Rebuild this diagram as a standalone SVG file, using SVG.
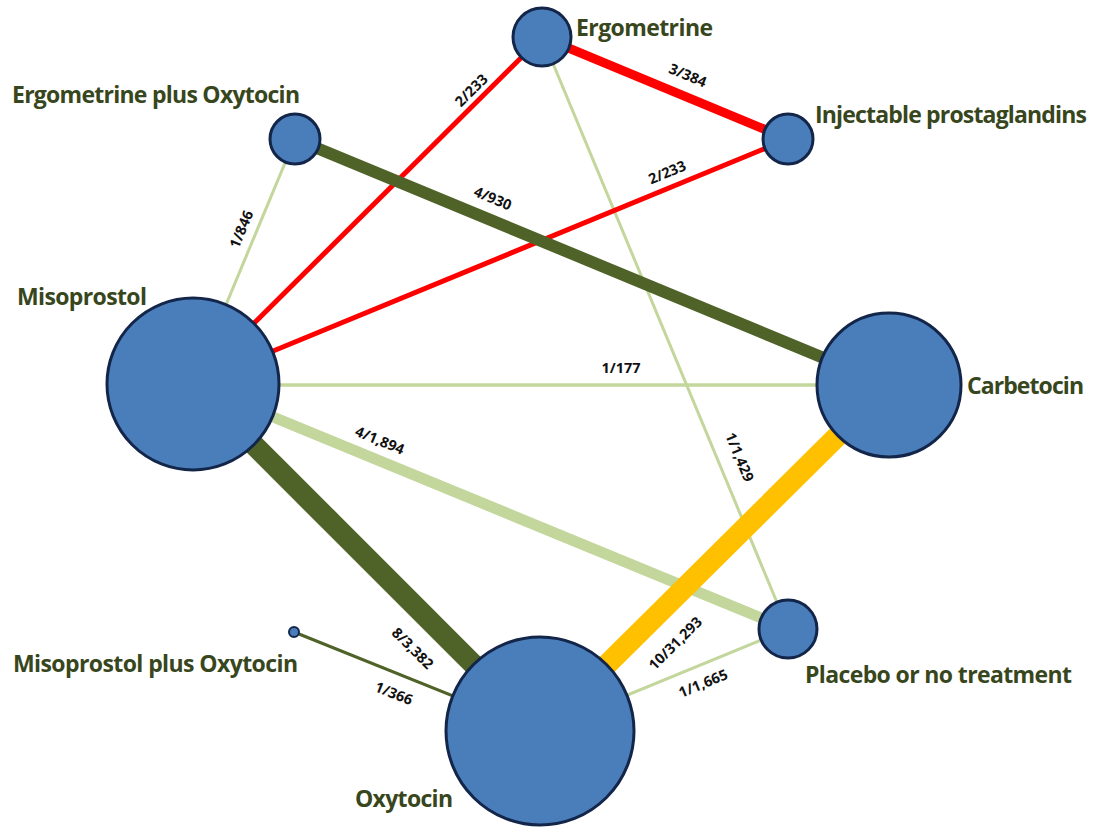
<svg xmlns="http://www.w3.org/2000/svg" width="1093" height="827" viewBox="0 0 1093 827">
<style>
.node circle{fill:#4A7EBB;stroke:#13264A;stroke-width:3}
.nl{font-family:"Open Sans","Liberation Sans",sans-serif;font-weight:bold;font-size:23px;fill:#37461C}
.el{font-family:"Open Sans","Liberation Sans",sans-serif;font-weight:bold;font-size:14.5px;fill:#111;text-anchor:middle;dominant-baseline:central}
.red{stroke:#FF0000}
.dg{stroke:#4F6228}
.lg{stroke:#C3D69B}
.gold{stroke:#FFC000}
</style>
<rect width="1093" height="827" fill="#ffffff"/>
<g id="connectors" fill="none">
<line class="lg" x1="295" y1="139" x2="193" y2="384" stroke-width="3"/>
<line class="lg" x1="542" y1="37" x2="788" y2="629" stroke-width="3"/>
<line class="lg" x1="193" y1="385" x2="889" y2="385" stroke-width="3.5"/>
<line class="lg" x1="540" y1="731" x2="788" y2="629" stroke-width="3"/>
<line class="lg" x1="193" y1="384" x2="788" y2="629" stroke-width="11"/>
<line class="red" x1="193" y1="384" x2="542" y2="37" stroke-width="5"/>
<line class="red" x1="193" y1="384" x2="788" y2="139" stroke-width="5"/>
<line class="red" x1="542" y1="37" x2="788" y2="139" stroke-width="9"/>
<line class="dg" x1="295" y1="139" x2="889" y2="385" stroke-width="12"/>
<line class="dg" x1="193" y1="384" x2="540" y2="731" stroke-width="21"/>
<line class="gold" x1="889" y1="385" x2="540" y2="731" stroke-width="21"/>
<line class="dg" x1="294" y1="632" x2="540" y2="731" stroke-width="3"/>
<text class="el" transform="translate(688,75) rotate(22.5)">3/384</text>
<text class="el" transform="translate(471,90) rotate(-44.8)">2/233</text>
<text class="el" transform="translate(667,172) rotate(-22.4)">2/233</text>
<text class="el" transform="translate(493,198) rotate(22.5)">4/930</text>
<text class="el" transform="translate(241,229) rotate(-67.4)">1/846</text>
<text class="el" transform="translate(621,367)">1/177</text>
<text class="el" transform="translate(740,457) rotate(67.4)">1/1,429</text>
<text class="el" transform="translate(380,440) rotate(22.4)">4/1,894</text>
<text class="el" transform="translate(413,648) rotate(45)">8/3,382</text>
<text class="el" transform="translate(675,643) rotate(-44.8)">10/31,293</text>
<text class="el" transform="translate(703,683) rotate(-22.4)">1/1,665</text>
<text class="el" transform="translate(394,693) rotate(21.9)">1/366</text>
</g>
<g id="node-ergometrine" class="node"><circle cx="542" cy="37" r="29"/><text class="nl" x="576" y="36" textLength="137">Ergometrine</text></g>
<g id="node-ergometrine-plus-oxytocin" class="node"><circle cx="295" cy="139" r="25"/><text class="nl" x="12" y="103" textLength="288">Ergometrine plus Oxytocin</text></g>
<g id="node-injectable-prostaglandins" class="node"><circle cx="788" cy="139" r="25"/><text class="nl" x="815" y="123" textLength="272">Injectable prostaglandins</text></g>
<g id="node-misoprostol" class="node"><circle cx="193" cy="384" r="86"/><text class="nl" x="17" y="305" textLength="130">Misoprostol</text></g>
<g id="node-carbetocin" class="node"><circle cx="889" cy="385" r="72"/><text class="nl" x="967" y="394" textLength="117">Carbetocin</text></g>
<g id="node-placebo" class="node"><circle cx="788" cy="629" r="29"/><text class="nl" x="805" y="683" textLength="267">Placebo or no treatment</text></g>
<g id="node-misoprostol-plus-oxytocin" class="node"><circle cx="294" cy="632" r="5" style="stroke-width:2"/><text class="nl" x="13" y="672" textLength="285">Misoprostol plus Oxytocin</text></g>
<g id="node-oxytocin" class="node"><circle cx="540" cy="731" r="94"/><text class="nl" x="355" y="807" textLength="98">Oxytocin</text></g>
</svg>
